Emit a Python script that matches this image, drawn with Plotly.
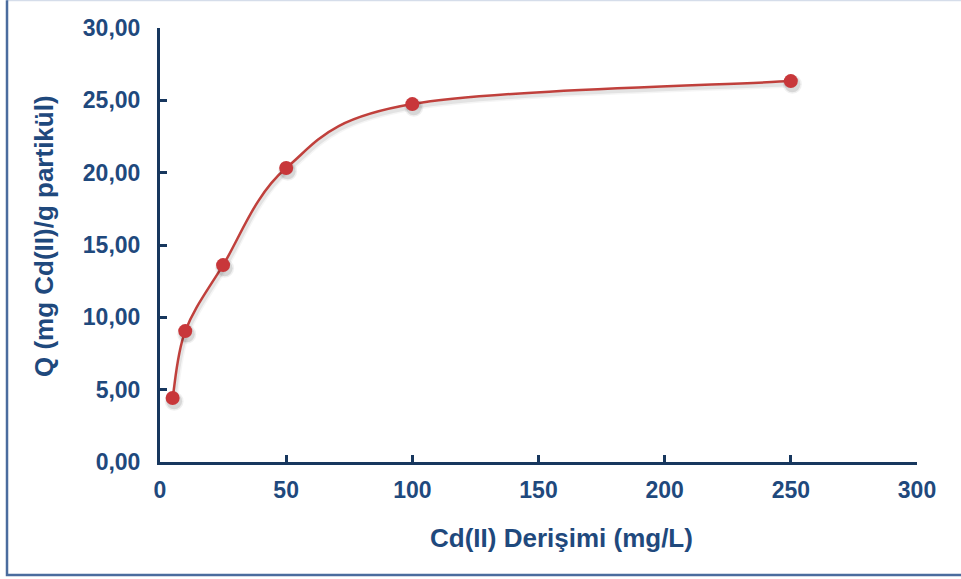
import plotly.graph_objects as go

# Cd(II) adsorption capacity vs initial concentration
concentration = [5, 10, 25, 50, 100, 250]          # mg/L
capacity = [4.42, 9.05, 13.61, 20.32, 24.74, 26.33]  # mg Cd(II)/g particle

x_ticks = [0, 50, 100, 150, 200, 250, 300]
y_ticks = [0, 5, 10, 15, 20, 25, 30]

x_title = "Cd(II) Derişimi (mg/L)"
y_title = "Q (mg Cd(II)/g partikül)"

text_color = "#1F497D"
axis_color = "#17375E"
series_color = "#C0403C"
font_family = "Liberation Sans, Arial, sans-serif"


def smooth_path(xs, ys, dx=0.0, dy=0.0):
    """Cubic Bezier (Catmull-Rom style) path through the points, in data units."""
    pts = [(x + dx, y + dy) for x, y in zip(xs, ys)]
    n = len(pts)
    d = f"M {pts[0][0]},{pts[0][1]}"
    for i in range(n - 1):
        p_prev = pts[max(i - 1, 0)]
        p0, p1 = pts[i], pts[i + 1]
        p_next = pts[min(i + 2, n - 1)]
        c1 = (p0[0] + (p1[0] - p_prev[0]) / 6, p0[1] + (p1[1] - p_prev[1]) / 6)
        c2 = (p1[0] - (p_next[0] - p0[0]) / 6, p1[1] - (p_next[1] - p0[1]) / 6)
        d += f" C {c1[0]},{c1[1]} {c2[0]},{c2[1]} {p1[0]},{p1[1]}"
    return d


fig = go.Figure()

# soft drop shadow under the markers
for size, alpha in [(19, 0.06), (16, 0.10)]:
    fig.add_trace(go.Scatter(
        x=[v + 0.6 for v in concentration], y=[v - 0.22 for v in capacity],
        mode="markers",
        marker=dict(size=size, color=f"rgba(0,0,0,{alpha})", line=dict(width=0)),
        hoverinfo="skip", showlegend=False,
    ))

fig.add_trace(go.Scatter(
    x=concentration, y=capacity,
    mode="markers",
    marker=dict(size=14, color="#C8373A", line=dict(width=0)),
    showlegend=False,
))

title_font = dict(size=26, color=text_color, family=font_family, weight="bold")

# chart frame: faint top edge, stronger left and bottom edges
shapes = [
    dict(type="line", xref="paper", yref="paper", x0=-0.2021, x1=1.07, y0=1.064, y1=1.064,
         line=dict(color="#D5DDEA", width=2), layer="below"),
    dict(type="path", xref="paper", yref="paper", layer="below",
         path="M -0.2021,1.064 L -0.2021,-0.2604 L 1.07,-0.2604",
         line=dict(color="#4A6C9E", width=2.5)),
]
# smoothed curve shadow, then the curve itself
for width, alpha in [(7, 0.04), (4, 0.07)]:
    shapes.append(dict(
        type="path", xref="x", yref="y", layer="below",
        path=smooth_path(concentration, capacity, 0.5, -0.2),
        line=dict(color=f"rgba(0,0,0,{alpha})", width=width),
    ))
shapes.append(dict(
    type="path", xref="x", yref="y", layer="below",
    path=smooth_path(concentration, capacity),
    line=dict(color=series_color, width=2.5),
))

fig.update_layout(
    width=961, height=579,
    margin=dict(l=160, r=44, t=28, b=117),
    paper_bgcolor="white",
    plot_bgcolor="white",
    separators=",.",
    font=dict(family=font_family, color=text_color),
    shapes=shapes,
    annotations=[
        dict(text=x_title, xref="paper", yref="paper", x=0.531, y=-0.175,
             xanchor="center", yanchor="middle", showarrow=False, font=title_font),
        dict(text=y_title, xref="paper", yref="paper", x=-0.153, y=0.521,
             xanchor="center", yanchor="middle", showarrow=False, textangle=-90,
             font=title_font),
    ],
)

fig.update_xaxes(
    range=[0, 300], tickvals=x_ticks,
    showgrid=False, zeroline=False,
    showline=True, linecolor=axis_color, linewidth=3,
    ticks="inside", ticklen=7, tickwidth=2.5, tickcolor=axis_color,
    ticklabelstandoff=5,
    tickfont=dict(size=23, color=text_color, family=font_family, weight="bold"),
)
fig.update_yaxes(
    range=[0, 30], tickvals=y_ticks, tickformat=".2f",
    showgrid=False, zeroline=False,
    showline=True, linecolor=axis_color, linewidth=3,
    ticks="inside", ticklen=7, tickwidth=2.5, tickcolor=axis_color,
    ticklabelstandoff=12,
    tickfont=dict(size=23, color=text_color, family=font_family, weight="bold"),
)

fig.write_html("out.html")
